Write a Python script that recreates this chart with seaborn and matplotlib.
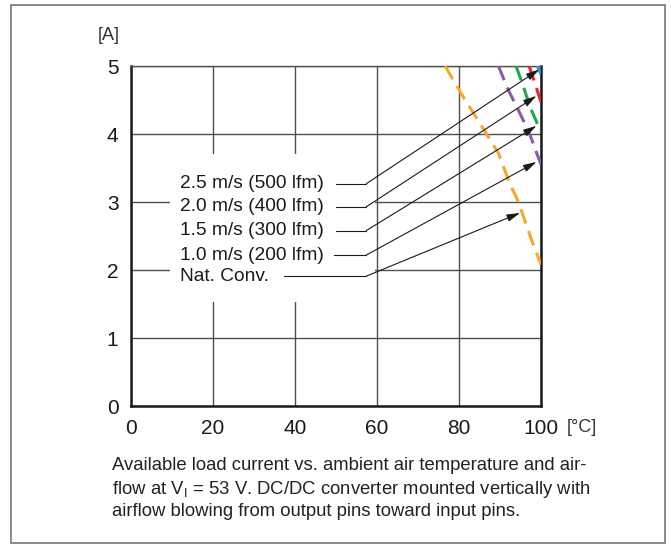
import pandas as pd
import matplotlib.pyplot as plt
import seaborn as sns
from matplotlib.patches import Rectangle

# Derating curves (temperature in degC, current in A)
nat_temp = [76.6, 81.0, 85.9, 89.6, 92.4, 94.5, 97.7, 100.0]
nat_curr = [5.0, 4.55, 4.08, 3.72, 3.27, 3.0, 2.44, 2.08]
v10_temp = [89.6, 92.0, 94.9, 97.3, 100.0]
v10_curr = [5.0, 4.65, 4.30, 3.99, 3.55]
v15_temp = [93.9, 95.6, 97.3, 100.0]
v15_curr = [5.0, 4.72, 4.40, 4.03]
v20_temp = [97.1, 98.5, 100.0]
v20_curr = [5.0, 4.75, 4.47]
v25_temp = [99.1, 99.9, 100.0]
v25_curr = [5.0, 4.89, 4.88]

labels = ['2.5 m/s (500 lfm)', '2.0 m/s (400 lfm)', '1.5 m/s (300 lfm)',
          '1.0 m/s (200 lfm)', 'Nat. Conv.']
label_y = [3.27, 2.93, 2.58, 2.22, 1.91]
leader_start = [50.0, 50.0, 50.0, 49.6, 37.3]
arrow_tips = [(99.6, 4.95), (98.9, 4.56), (98.9, 4.12), (98.9, 3.59), (94.9, 2.84)]

x_ticks = [0, 20, 40, 60, 80, 100]
y_ticks = [0, 1, 2, 3, 4, 5]

caption = ['Available load current vs. ambient air temperature and air-',
           'flow at V$_\\mathregular{I}$ = 53 V. DC/DC converter mounted vertically with',
           'airflow blowing from output pins toward input pins.']

sns.set_style('white')
plt.rcParams['font.family'] = ['Liberation Sans', 'DejaVu Sans']
plt.rcParams['mathtext.fontset'] = 'custom'
plt.rcParams['mathtext.rm'] = 'Liberation Sans'

fig = plt.figure(figsize=(6.71, 5.44), dpi=100)
ax = fig.add_axes([131 / 671, 1 - 406 / 544, 410 / 671, 340 / 544])

series = [(nat_temp, nat_curr, '#F7A72E'),
          (v10_temp, v10_curr, '#8C5AA8'),
          (v15_temp, v15_curr, '#1FA84A'),
          (v20_temp, v20_curr, '#E5232A'),
          (v25_temp, v25_curr, '#1C9FD9')]
for xs, ys, col in series:
    df = pd.DataFrame({'T': xs, 'I': ys})
    sns.lineplot(data=df, x='T', y='I', ax=ax, color=col, lw=2.2,
                 dashes=False, zorder=3, clip_on=True)
    ax.lines[-1].set_dashes((5, 2.6))

ax.set_xlim(0, 100)
ax.set_ylim(0, 5)
ax.set_xticks(x_ticks)
ax.set_yticks(y_ticks)
ax.grid(True, color='#505050', lw=1.0)
ax.set_axisbelow(True)
ax.set_xlabel('')
ax.set_ylabel('')
ax.tick_params(length=0, labelsize=15, colors='#1a1a1a', pad=9)
for side in ['left', 'bottom', 'right']:
    ax.spines[side].set_linewidth(1.8)
    ax.spines[side].set_color('#1a1a1a')
ax.spines['top'].set_linewidth(1.0)
ax.spines['top'].set_color('#505050')

# white box behind the labels
ax.add_patch(Rectangle((9.6, 1.53), 50.0, 2.17, facecolor='white',
                       edgecolor='none', zorder=1.5))

for lab, ly, x0, tip in zip(labels, label_y, leader_start, arrow_tips):
    ax.text(12, ly, lab, fontsize=13.8, color='#1a1a1a', va='center',
            ha='left', zorder=4)
    ax.plot([x0, 57.4], [ly, ly], color='#1a1a1a', lw=0.8, zorder=4)
    ax.annotate('', xy=tip, xytext=(57.4, ly),
                arrowprops=dict(arrowstyle='-|>,head_length=0.8,head_width=0.22',
                                color='#1a1a1a', lw=0.8, shrinkA=0, shrinkB=0),
                zorder=4)

fig.text(109 / 671, 1 - 36 / 544, '[A]', fontsize=13, color='#333333',
         ha='center', va='center')
fig.text(567 / 671, 1 - 428 / 544, '[°C]', fontsize=13, color='#333333',
         ha='left', va='center')

for i, line in enumerate(caption):
    fig.text(112 / 671, 1 - [465, 489, 511][i] / 544, line, fontsize=13.3,
             color='#222222', ha='left', va='center')

fig.add_artist(Rectangle((11 / 671, 1 - 543 / 544), 654 / 671, 538 / 544,
                         transform=fig.transFigure, fill=False,
                         edgecolor='#777777', lw=1.2))

fig.savefig('out.png', dpi=100)
